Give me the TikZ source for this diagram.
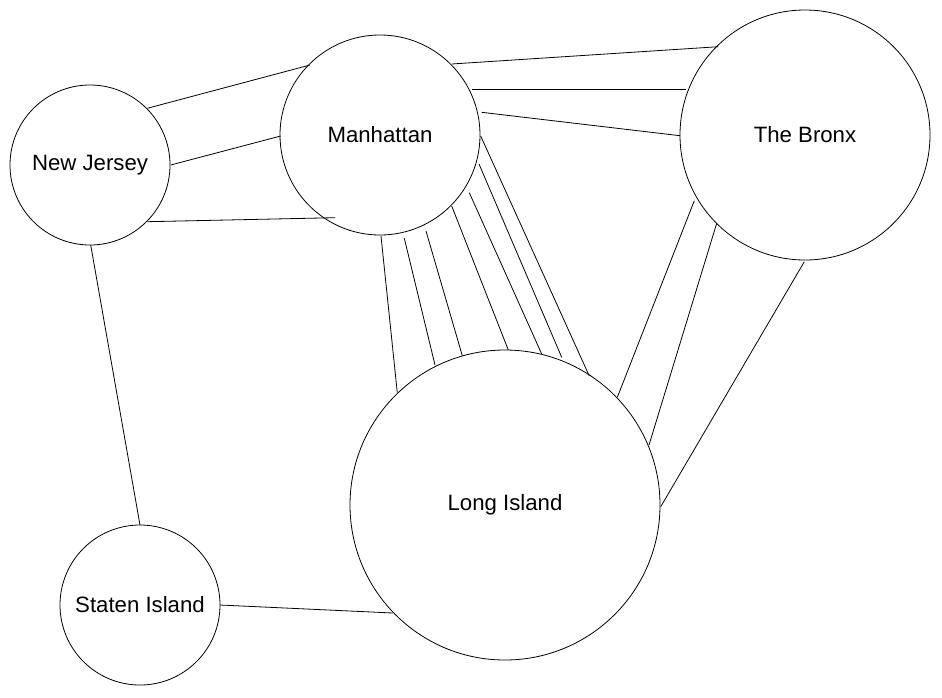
\documentclass[tikz,border=0pt]{standalone}
\usepackage{fontspec}
\setmainfont{Liberation Sans}
\usetikzlibrary{calc}
\begin{document}
\begin{tikzpicture}[x=1pt,y=-1pt,
  region/.style={circle,draw=black,line width=0.8pt,fill=white,inner sep=0pt,font=\fontsize{22.2}{26}\selectfont},
  bridge/.style={draw=black,line width=0.8pt}]
\useasboundingbox (0,0) rectangle (942,697);
\node[region,minimum size=160pt] (nj) at (90,165) {New Jersey};
\node[region,minimum size=200pt] (m) at (380,135) {Manhattan};
\node[region,minimum size=250pt] (b) at (805,135) {The Bronx};
\node[region,minimum size=310pt] (li) at (505,505) {Long Island};
\node[region,minimum size=160pt] (si) at (140,605) {Staten Island};
% New Jersey - Manhattan
\draw[bridge] ($(nj)+(57.3,-56.7)$) -- ($(m)+(-70,-70)$);
\draw[bridge] ($(nj)+(80.7,0)$) -- ($(m)+(-99.3,1)$);
\draw[bridge] ($(nj)+(57.3,56.7)$) -- ($(m)+(-45,82.7)$);
% Manhattan - Bronx
\draw[bridge] ($(m)+(71.7,-71)$) -- ($(b)+(-86.7,-88.3)$);
\draw[bridge] ($(m)+(91.7,-46)$) -- ($(b)+(-119,-46)$);
\draw[bridge] ($(m)+(101.7,-22.7)$) -- ($(b)+(-125,0.7)$);
% Manhattan - Long Island
\draw[bridge] ($(m)+(1,101)$) -- ($(li)+(-107.7,-112.3)$);
\draw[bridge] ($(m)+(24.3,103.3)$) -- ($(li)+(-70,-140)$);
\draw[bridge] ($(m)+(46,96)$) -- ($(li)+(-42.7,-149.3)$);
\draw[bridge] ($(m)+(71.7,71)$) -- ($(li)+(3.3,-155)$);
\draw[bridge] ($(m)+(89.3,57.7)$) -- ($(li)+(36.7,-151)$);
\draw[bridge] ($(m)+(99,29)$) -- ($(li)+(56.7,-147.7)$);
\draw[bridge] ($(m)+(100.7,1)$) -- ($(li)+(84.3,-129)$);
% Bronx - Long Island
\draw[bridge] ($(b)+(-110.7,65.7)$) -- ($(li)+(112.3,-107.7)$);
\draw[bridge] ($(b)+(-88.3,88.3)$) -- ($(li)+(144,-60)$);
\draw[bridge] ($(b)+(-0.7,126.7)$) -- ($(li)+(155.7,1.7)$);
% New Jersey - Staten Island
\draw[bridge] ($(nj)+(0.7,80)$) -- ($(si)+(0,-80)$);
% Staten Island - Long Island
\draw[bridge] ($(si)+(80,0)$) -- ($(li)+(-112,108)$);
\end{tikzpicture}
\end{document}
